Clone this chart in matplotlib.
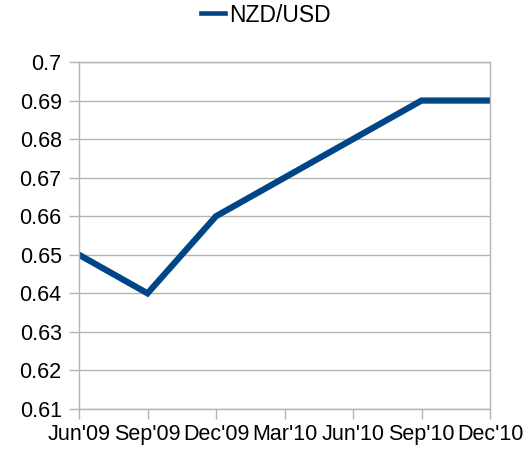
import matplotlib.pyplot as plt
from matplotlib.lines import Line2D

months = ["Jun'09", "Sep'09", "Dec'09", "Mar'10", "Jun'10", "Sep'10", "Dec'10"]
nzd_usd = [0.65, 0.64, 0.66, 0.67, 0.68, 0.69, 0.69]
y_ticks = [0.61, 0.62, 0.63, 0.64, 0.65, 0.66, 0.67, 0.68, 0.69, 0.7]

plt.rcParams["font.family"] = ["Liberation Sans", "DejaVu Sans"]

fig = plt.figure(figsize=(5.32, 4.54), dpi=100)
ax = fig.add_axes([79 / 532, 1 - 409 / 454, 411 / 532, 347 / 454])

x = list(range(len(months)))
ax.plot(x, nzd_usd, color="#004586", linewidth=4.5, solid_joinstyle="miter", label="NZD/USD")

ax.set_xlim(0, len(months) - 1)
ax.set_ylim(0.61, 0.70)
ax.set_xticks(x)
ax.set_xticklabels(months, fontsize=15.5)
ax.set_yticks(y_ticks)
ax.set_yticklabels([f"{v:g}" for v in y_ticks], fontsize=15.5)

ax.grid(axis="y", color="#b3b3b3", linewidth=1)
ax.set_axisbelow(True)
for side in ["left", "right", "top", "bottom"]:
    ax.spines[side].set_color("#b3b3b3")
    ax.spines[side].set_linewidth(1)
ax.tick_params(axis="both", color="#b3b3b3", length=7.5, width=1)
ax.tick_params(axis="y", pad=5)
ax.tick_params(axis="x", pad=3)

handle = Line2D([], [], color="#004586", linewidth=3.3)
fig.legend([handle], ["NZD/USD"], loc="center", bbox_to_anchor=(0.5, 1 - 15 / 454),
           frameon=False, fontsize=16.5, handlelength=1.05, handletextpad=0.15)

fig.savefig("out.png", dpi=100)
